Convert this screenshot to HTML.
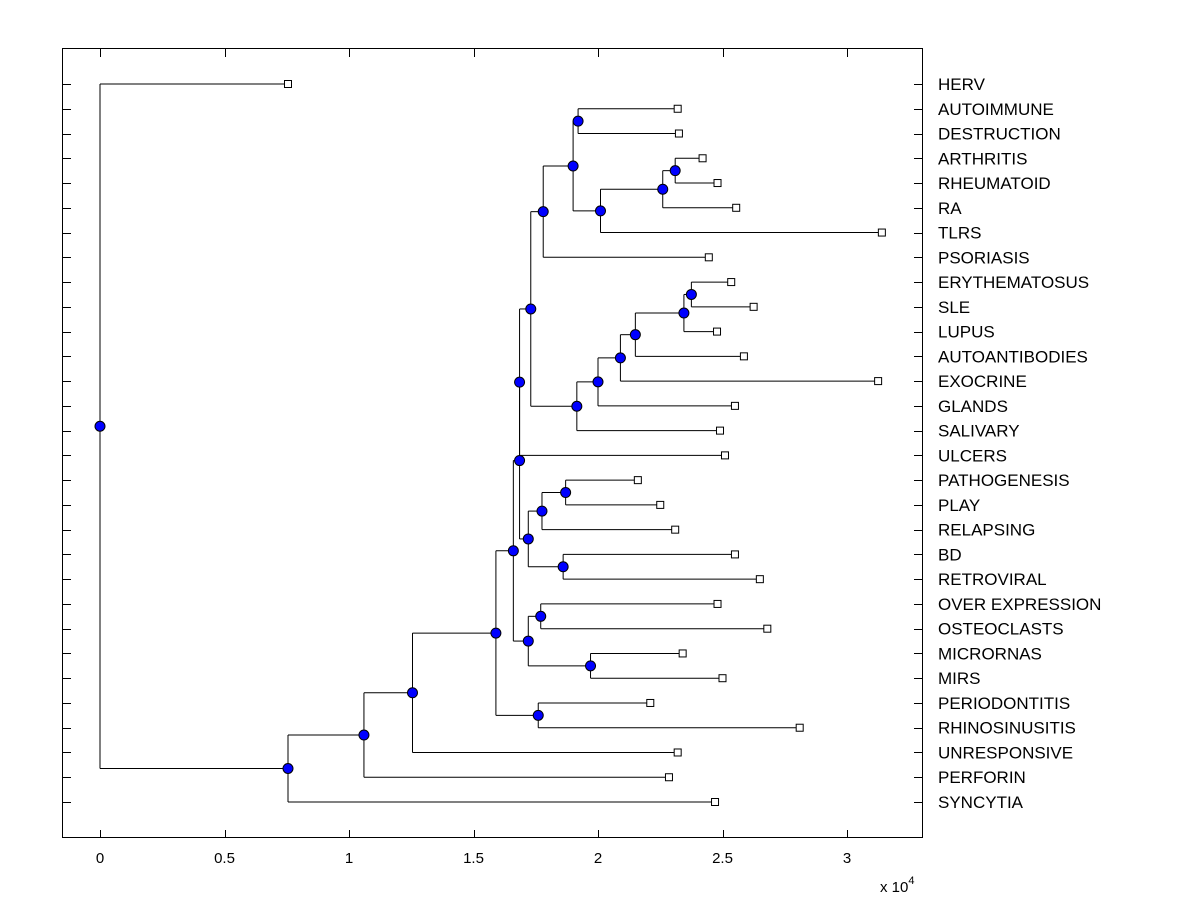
<!DOCTYPE html>
<html><head><meta charset="utf-8"><style>
body{margin:0;background:#fff;}
svg{display:block;font-family:"Liberation Sans",Arial,sans-serif;}
</style></head><body>
<svg id="chart" width="1200" height="900" viewBox="0 0 1200 900">
<rect x="0" y="0" width="1200" height="900" fill="#fff"/>
<g id="grid"></g>
<g id="tree"></g>
<g id="marks"></g>
<rect x="62.5" y="48.5" width="860" height="789" fill="none" stroke="#000" stroke-width="1"/>
<text x="880" y="892" font-size="15">x 10<tspan dy="-8" font-size="11">4</tspan></text>
</svg>
<script>
const leafNames=["HERV","AUTOIMMUNE","DESTRUCTION","ARTHRITIS","RHEUMATOID","RA","TLRS","PSORIASIS","ERYTHEMATOSUS","SLE","LUPUS","AUTOANTIBODIES","EXOCRINE","GLANDS","SALIVARY","ULCERS","PATHOGENESIS","PLAY","RELAPSING","BD","RETROVIRAL","OVER EXPRESSION","OSTEOCLASTS","MICRORNAS","MIRS","PERIODONTITIS","RHINOSINUSITIS","UNRESPONSIVE","PERFORIN","SYNCYTIA"];
const leafDist=[0.755,2.32,2.325,2.42,2.48,2.555,3.14,2.445,2.535,2.625,2.478,2.586,3.125,2.55,2.49,2.51,2.16,2.25,2.31,2.55,2.65,2.48,2.68,2.34,2.5,2.21,2.81,2.32,2.285,2.47];
const xTicks=[0,0.5,1,1.5,2,2.5,3];
const xTickLabels=["0","0.5","1","1.5","2","2.5","3"];
const nodeDist={root:0,N1:0.755,N2:1.06,N3:1.255,N4:1.59,N5:1.66,N6:1.76,N7:1.685,N8:1.72,N9:1.77,N10:1.97,N11:1.685,N12:1.72,N13:1.775,N14:1.86,N15:1.87,N16:1.73,N17:1.78,N18:1.915,N19:1.9,N20:1.92,N21:2.01,N22:2.26,N23:2.31,N24:2.0,N25:2.09,N26:2.15,N27:2.345,N28:2.375};
const nodeChildren={root:["HERV","N1"],N1:["N2","SYNCYTIA"],N2:["N3","PERFORIN"],N3:["N4","UNRESPONSIVE"],N4:["N5","N6"],N6:["PERIODONTITIS","RHINOSINUSITIS"],N5:["N7","N8"],N8:["N9","N10"],N9:["OVER EXPRESSION","OSTEOCLASTS"],N10:["MICRORNAS","MIRS"],N7:["N11","N12"],N12:["N13","N14"],N13:["N15","RELAPSING"],N15:["PATHOGENESIS","PLAY"],N14:["BD","RETROVIRAL"],N11:["N16","ULCERS"],N16:["N17","N18"],N17:["N19","PSORIASIS"],N19:["N20","N21"],N20:["AUTOIMMUNE","DESTRUCTION"],N21:["N22","TLRS"],N22:["N23","RA"],N23:["ARTHRITIS","RHEUMATOID"],N18:["N24","SALIVARY"],N24:["N25","GLANDS"],N25:["N26","EXOCRINE"],N26:["N27","AUTOANTIBODIES"],N27:["N28","LUPUS"],N28:["ERYTHEMATOSUS","SLE"]};

const NS="http://www.w3.org/2000/svg";
const xs=v=>100+v*249;
const ys=i=>84+i*(802-84)/29;
function mk(tag,attrs,parent){const e=document.createElementNS(NS,tag);for(const k in attrs)e.setAttribute(k,attrs[k]);parent.appendChild(e);return e;}
const grid=document.getElementById('grid'),tree=document.getElementById('tree'),marks=document.getElementById('marks');

xTicks.forEach((t,i)=>{
  const x=Math.round(xs(t))+0.5;
  const a=mk('line',{x1:x,x2:x,y1:838,y2:830,stroke:'#000'},grid);
  
  
  const b=mk('line',{x1:x,x2:x,y1:49,y2:57,stroke:'#000'},grid);
  
  
  const tx=mk('text',{x:xs(t),y:863,'font-size':15,'text-anchor':'middle'},grid);
  tx.textContent=xTickLabels[i];
  
  
});
leafNames.forEach((n,i)=>{
  const y=Math.round(ys(i))+0.5;
  const a=mk('line',{x1:62,x2:71,y1:y,y2:y,stroke:'#000'},grid);
  
  
  const b=mk('line',{x1:914,x2:922,y1:y,y2:y,stroke:'#000'},grid);
  
  
  const t=mk('text',{x:938,y:ys(i)+6,'font-size':17},grid);
  t.textContent=n;
  
  
});
const pos={};
leafNames.forEach((n,i)=>{pos[n]={x:xs(leafDist[i]),y:ys(i)};});
function place(id){
  if(pos[id])return pos[id];
  const c=nodeChildren[id].map(place);
  pos[id]={x:xs(nodeDist[id]),y:(c[0].y+c[1].y)/2};
  return pos[id];
}
place('root');
const nodeList=[];
function draw(id){
  const ch=nodeChildren[id];if(!ch)return;
  const p=pos[id];
  const c=ch.map(k=>pos[k]);
  const v=mk('line',{x1:p.x,x2:p.x,y1:c[0].y,y2:c[1].y,stroke:'#000','stroke-width':1},tree);
  
  
  c.forEach(q=>{
    const h=mk('line',{x1:p.x,x2:q.x,y1:q.y,y2:q.y,stroke:'#000','stroke-width':1},tree);
    
    
  });
  nodeList.push(id);
  ch.forEach(draw);
}
draw('root');
nodeList.forEach(id=>{
  const p=pos[id];
  const c=mk('circle',{cx:p.x,cy:p.y,r:5,fill:'#0000ff',stroke:'#000','stroke-width':1},marks);
  
  
});
leafNames.forEach(n=>{
  const p=pos[n];
  const r=mk('rect',{x:p.x-3.5,y:p.y-3.5,width:7,height:7,fill:'#fff',stroke:'#000','stroke-width':1},marks);
  
  
});
</script>
</body></html>
